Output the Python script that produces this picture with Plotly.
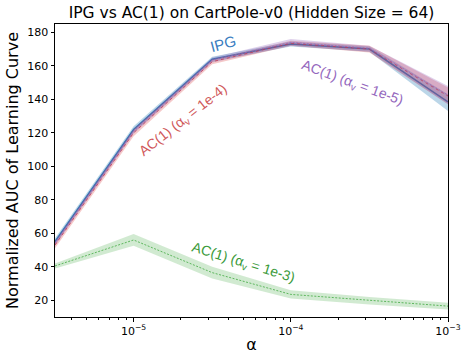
import plotly.graph_objects as go

alphas = [10**-5.5, 1e-5, 10**-4.5, 1e-4, 10**-3.5, 1e-3]

ipg_mean = [55, 122, 164, 173, 170, 138.5]
ipg_lo = [53, 120, 162.5, 171.5, 168.5, 133]
ipg_hi = [57, 124, 165.5, 174.5, 171.5, 143]

ac4_mean = [53, 120, 162.5, 173.5, 170, 142]
ac4_lo = [51, 118, 161, 172, 168, 137]
ac4_hi = [55, 122, 164, 175, 172, 147]

ac5_mean = [54, 121, 163.5, 174, 170.5, 142.5]
ac5_lo = [52.5, 119.5, 162, 172, 168.5, 137]
ac5_hi = [55.5, 122.5, 165, 176, 172, 148]

ac3_mean = [40.5, 56, 36.5, 23.5, 20, 16.5]
ac3_lo = [39, 52.5, 33, 21, 17.5, 14.5]
ac3_hi = [42, 59.5, 40, 26, 22, 18.5]

tick_vals = [1e-5, 1e-4, 1e-3]
tick_text = ["10<sup>−5</sup>", "10<sup>−4</sup>", "10<sup>−3</sup>"]

fig = go.Figure()

def add_series(mean, lo, hi, color, fill, dash, width):
    fig.add_trace(go.Scatter(x=alphas, y=hi, mode="lines", line=dict(width=0),
                             showlegend=False, hoverinfo="skip"))
    fig.add_trace(go.Scatter(x=alphas, y=lo, mode="lines", line=dict(width=0),
                             fill="tonexty", fillcolor=fill, showlegend=False, hoverinfo="skip"))
    fig.add_trace(go.Scatter(x=alphas, y=mean, mode="lines",
                             line=dict(color=color, dash=dash, width=width), showlegend=False))

add_series(ac3_mean, ac3_lo, ac3_hi, "#2ca02c", "rgba(44,160,44,0.22)", "2px,1.5px", 0.7)
add_series(ipg_mean, ipg_lo, ipg_hi, "#1f77b4", "rgba(31,119,180,0.3)", "solid", 1.5)
add_series(ac4_mean, ac4_lo, ac4_hi, "#d62728", "rgba(214,39,40,0.25)", "dot", 0.8)
add_series(ac5_mean, ac5_lo, ac5_hi, "#9467bd", "rgba(148,103,189,0.3)", "2px,1.5px", 0.8)

fam = "Liberation Sans"
annotations = [
    dict(x=-4.43, y=173.5, text="IPG", textangle=-15,
         font=dict(family=fam, size=15, color="#3a7dbf")),
    dict(x=-4.68, y=127.5, text="AC(1) (α<sub>v</sub> = 1e-4)", textangle=-38,
         font=dict(family=fam, size=14, color="#d0585a")),
    dict(x=-3.61, y=150, text="AC(1) (α<sub>v</sub> = 1e-5)", textangle=20,
         font=dict(family=fam, size=14, color="#9467bd")),
    dict(x=-4.3, y=42.5, text="AC(1) (α<sub>v</sub> = 1e-3)", textangle=17,
         font=dict(family=fam, size=14, color="#3a9a3a")),
]
for a in annotations:
    a.update(xref="x", yref="y", showarrow=False)

fig.update_layout(
    width=461, height=354,
    margin=dict(l=55, r=13, t=24, b=37),
    paper_bgcolor="white", plot_bgcolor="white",
    font=dict(family="DejaVu Sans", color="black", size=11),
    title=dict(text="IPG vs AC(1) on CartPole-v0 (Hidden Size = 64)", xref="paper", x=0.5,
               xanchor="center", yref="container", y=0.965, yanchor="middle",
               font=dict(size=15.5)),
    annotations=annotations,
    showlegend=False,
)
fig.update_xaxes(type="log", range=[-5.5, -3], tickvals=tick_vals, ticktext=tick_text,
                 automargin=False,
                 showgrid=False, zeroline=False, showline=True, linecolor="black", linewidth=1,
                 mirror=True, ticks="outside", ticklen=3.5, tickcolor="black",
                 minor=dict(ticks="outside", ticklen=2, tickcolor="black", dtick="D1", showgrid=False),
                 title=dict(text="α", font=dict(size=16), standoff=3))
fig.update_yaxes(range=[10, 185], tickvals=[20, 40, 60, 80, 100, 120, 140, 160, 180],
                 automargin=False,
                 showgrid=False, zeroline=False, showline=True, linecolor="black", linewidth=1,
                 mirror=True, ticks="outside", ticklen=3.5, tickcolor="black",
                 title=dict(text="Normalized AUC of Learning Curve", font=dict(size=16), standoff=4))

fig.write_html("out.html")
